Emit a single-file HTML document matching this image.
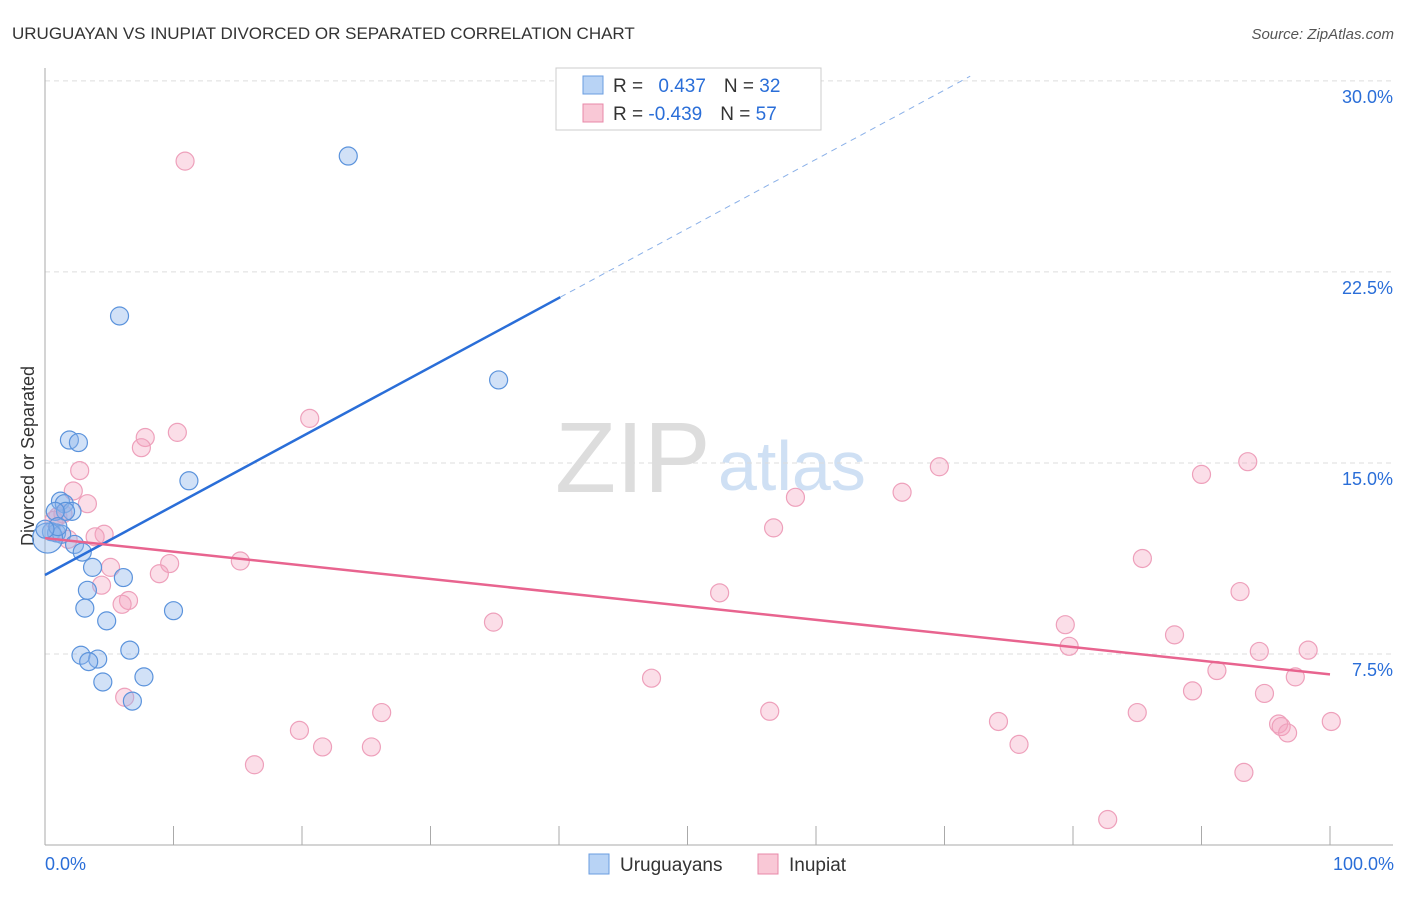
<!DOCTYPE html>
<html><head><meta charset="utf-8"><style>
body{margin:0;background:#fff;font-family:"Liberation Sans",sans-serif}
svg text{font-family:"Liberation Sans",sans-serif}
</style></head><body>
<svg id="c" width="1406" height="892" xmlns="http://www.w3.org/2000/svg">
<text x="12" y="39" font-size="17" fill="#333">URUGUAYAN VS INUPIAT DIVORCED OR SEPARATED CORRELATION CHART</text>
<text x="1394" y="39" font-size="15" fill="#555" font-style="italic" text-anchor="end">Source: ZipAtlas.com</text>
<text transform="translate(34,456) rotate(-90)" font-size="18" fill="#333" text-anchor="middle" style="font-weight:normal">Divorced or Separated</text>
<text x="555" y="492" font-size="100" fill="#ddd" font-family="Liberation Serif">ZIP</text>
<text x="718" y="490" font-size="70" fill="#cfe0f4">atlas</text>
<g id="grid"></g><g id="axes"></g><g id="pts"></g><g id="lines"></g>
<g>
<rect x="556" y="68" width="265" height="62" fill="#fff" stroke="#ccc"/>
<rect x="583" y="76" width="20" height="18" fill="#b8d3f5" stroke="#6a9de0"/>
<rect x="583" y="104" width="20" height="18" fill="#f9c8d6" stroke="#e888a8"/>
<text x="613" y="92" font-size="19" fill="#333">R = <tspan fill="#2a6ed8" dx="10">0.437</tspan><tspan dx="18">N = </tspan><tspan fill="#2a6ed8">32</tspan></text>
<text x="613" y="120" font-size="19" fill="#333">R = <tspan fill="#2a6ed8">-0.439</tspan><tspan dx="18">N = </tspan><tspan fill="#2a6ed8">57</tspan></text>
</g>
<g>
<rect x="589" y="854" width="20" height="20" fill="#b8d3f5" stroke="#6a9de0"/>
<text x="620" y="871" font-size="19" fill="#333">Uruguayans</text>
<rect x="758" y="854" width="20" height="20" fill="#f9c8d6" stroke="#e888a8"/>
<text x="789" y="871" font-size="19" fill="#333">Inupiat</text>
</g>
</svg>
<script>
const blueX=[23.6,5.8,35.3,1.9,2.6,11.2,1.2,1.5,2.1,1.6,0.8,0.5,0.9,1.3,2.3,2.9,3.7,6.1,3.3,3.1,10.0,4.8,6.6,2.8,4.1,3.4,7.7,4.5,6.8,0.2,1.0,0.0];
const blueY=[27.05,20.77,18.26,15.9,15.8,14.3,13.5,13.4,13.1,13.1,13.1,12.3,12.25,12.2,11.8,11.5,10.9,10.5,10.0,9.3,9.2,8.8,7.65,7.45,7.3,7.2,6.6,6.4,5.65,12.05,12.5,12.4];
const pinkX=[10.9,20.6,10.3,7.8,7.5,2.7,69.6,93.6,90.0,2.2,58.4,66.7,3.3,1.0,1.4,0.7,1.8,4.6,3.9,56.7,85.4,15.2,9.7,5.1,8.9,4.4,6.5,6.0,52.5,93.0,34.9,79.4,87.9,79.7,94.5,98.3,91.2,47.2,97.3,6.2,89.3,94.9,56.4,26.2,85.0,74.2,100.1,19.8,96.0,96.2,96.7,21.6,25.4,75.8,16.3,93.3,82.7];
const pinkY=[26.85,16.75,16.2,16.0,15.6,14.7,14.85,15.05,14.55,13.9,13.65,13.85,13.4,12.9,13.0,12.75,12.0,12.2,12.1,12.45,11.25,11.15,11.05,10.9,10.65,10.2,9.6,9.45,9.9,9.95,8.75,8.65,8.25,7.8,7.6,7.65,6.85,6.55,6.6,5.8,6.05,5.95,5.25,5.2,5.2,4.85,4.85,4.5,4.75,4.65,4.4,3.85,3.85,3.95,3.15,2.85,1.0];
const yTicks=[7.5,15.0,22.5,30.0];
const xTickLabels=["0.0%","100.0%"];
const blueTrend=[10.6,0.272];
const pinkTrend=[12.05,-0.0535];
const NS="http://www.w3.org/2000/svg";
const X=v=>45+v*12.85, Y=v=>845-v*25.47;
function mk(tag,attrs,parent){const e=document.createElementNS(NS,tag);for(const k in attrs)e.setAttribute(k,attrs[k]);document.getElementById(parent).appendChild(e);return e;}
yTicks.forEach(t=>{
 const l=mk('line',{x1:45,x2:1393,y1:Y(t),y2:Y(t),stroke:'#ddd','stroke-dasharray':'5,4'},'grid');
 
 
 const tx=mk('text',{x:1393,y:Y(t)+22,'font-size':18,fill:'#2a6ed8','text-anchor':'end'},'grid');
 tx.textContent=t.toFixed(1)+'%';
 
 
});
const ax=mk('line',{x1:45,x2:1393,y1:845,y2:845,stroke:'#aaa'},'axes');


const ay=mk('line',{x1:45,x2:45,y1:68,y2:845,stroke:'#aaa'},'axes');


for(let i=0;i<=10;i++){const t=mk('line',{x1:X(i*10),x2:X(i*10),y1:826,y2:845,stroke:'#aaa'},'axes');
 
 }
xTickLabels.forEach((s,i)=>{const t=mk('text',{x:i?1394:45,y:870,'font-size':18,fill:'#2a6ed8','text-anchor':i?'end':'start'},'axes');t.textContent=s;
 
 });
pinkX.forEach((x,i)=>{const c=mk('circle',{cx:X(x),cy:Y(pinkY[i]),r:9,fill:'rgba(244,160,190,0.35)',stroke:'#eea0bb','stroke-width':1.2},'pts');
 
 });
blueX.forEach((x,i)=>{const c=mk('circle',{cx:X(x),cy:Y(blueY[i]),r:i==29?15:9,fill:'rgba(140,180,235,0.4)',stroke:'#5b93dc','stroke-width':1.2},'pts');
 
 });
const b1=mk('line',{x1:X(0),y1:Y(blueTrend[0]),x2:X(40.1),y2:Y(blueTrend[0]+blueTrend[1]*40.1),stroke:'#2a6ed8','stroke-width':2.5},'lines');


const b2=mk('line',{x1:X(40.1),y1:Y(blueTrend[0]+blueTrend[1]*40.1),x2:X(72),y2:Y(blueTrend[0]+blueTrend[1]*72),stroke:'#8ab0e8','stroke-width':1,'stroke-dasharray':'6,5'},'lines');


const p1=mk('line',{x1:X(0),y1:Y(pinkTrend[0]),x2:X(100),y2:Y(pinkTrend[0]+pinkTrend[1]*100),stroke:'#e8648f','stroke-width':2.5},'lines');


</script>
</body></html>
